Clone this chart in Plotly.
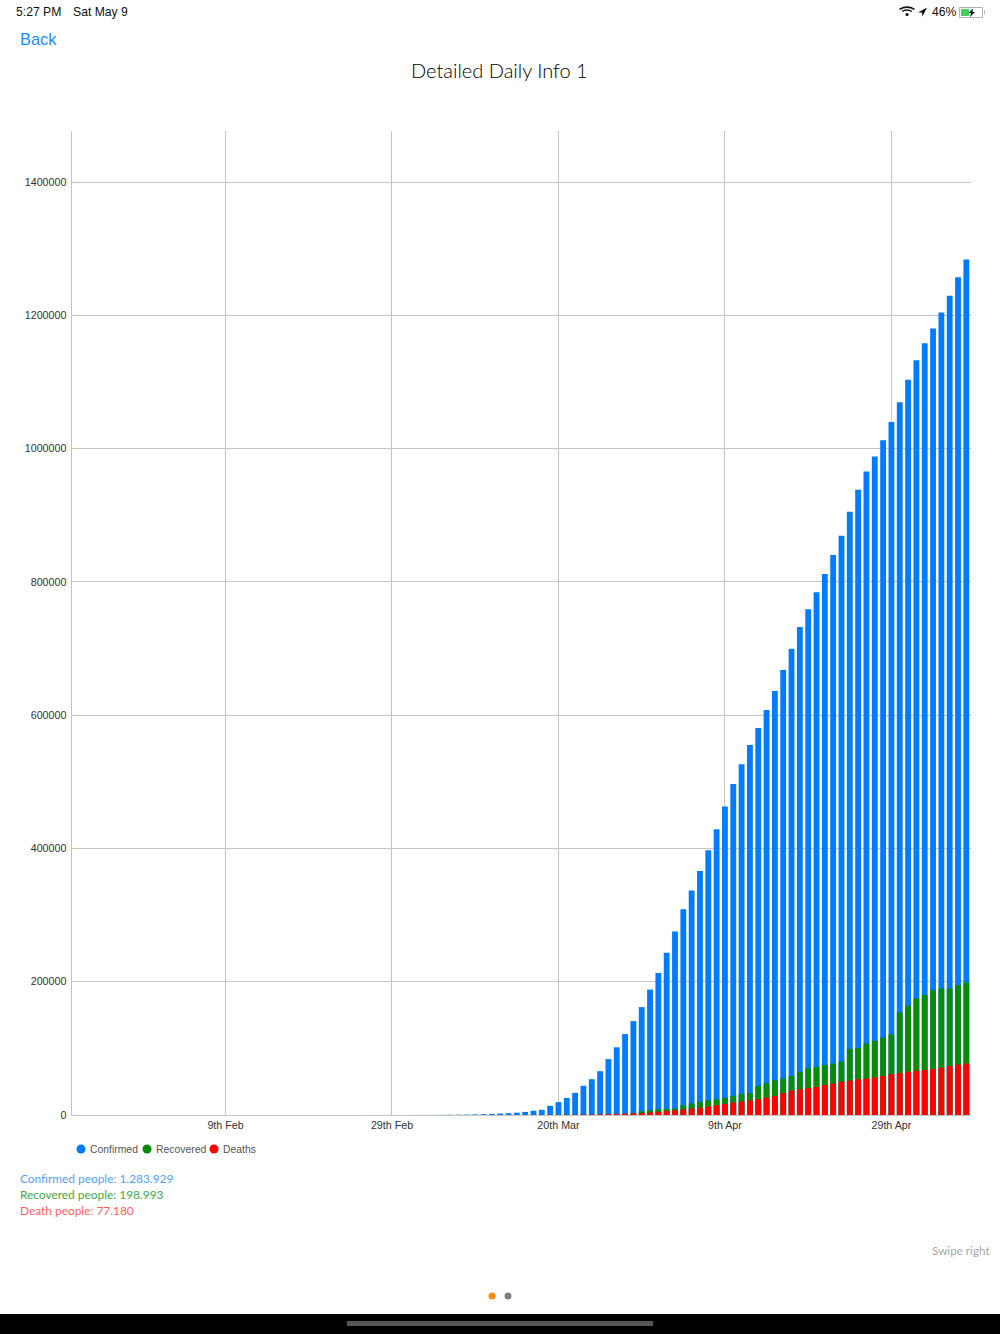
import plotly.graph_objects as go
from datetime import date, timedelta

# ---- data ----
start = date(2020, 1, 22)
confirmed = [1,1,2,2,5,5,5,5,5,7,
 8,8,11,11,11,11,11,11,11,11,12,12,13,13,13,13,13,13,13,13,15,15,15,51,51,57,58,60,68,
 74,98,118,149,217,262,402,518,583,959,1281,1663,2179,2727,3499,4632,6421,7783,13747,19273,
 25600,33276,43847,53740,65778,83836,101657,121465,140909,161831,188172,
 213242,243622,275367,308650,336802,366317,397121,428654,462780,496535,526396,555313,580619,607670,
 636350,667592,699706,732197,759086,784326,811865,840351,869170,905358,938154,965785,988197,1012582,1039909,1069424,
 1103461,1132539,1158040,1180375,1204351,1229331,1257023,1283929]
recovered = [0]*10 + [0]*29 + [0]*14 + [12,17,17,17,105,
 121,147,176,295,348,361,681,869,1072,2665,5644,7024,
 8474,9001,9707,14652,17448,19581,21763,23559,25410,28790,31270,32988,43482,47763,
 52096,54703,58545,64840,70337,72329,75204,77366,80203,99079,100372,106988,111424,115936,120720,153947,
 164015,175382,180152,187180,189791,189910,195036,198993]
deaths = [0]*10 + [0]*28 + [1] + [1,6,7,11,12,14,17,21,22,28,36,40,47,54,63,85,108,118,200,244,
 307,417,557,706,942,1209,1581,2026,2467,2978,3873,
 4757,5926,7087,8407,9619,10783,12722,14695,16478,18586,20463,22020,23529,25831,
 28325,32916,36773,38664,40661,42094,44845,46785,49954,51949,53755,54881,56259,58355,60967,62996,
 64943,66369,67682,68922,71064,73431,75670,77180]
days = [(start + timedelta(days=i)).isoformat() for i in range(len(confirmed))]
x_tick_dates = ["2020-02-09", "2020-02-29", "2020-03-20", "2020-04-09", "2020-04-29"]
x_tick_labels = ["9th Feb", "29th Feb", "20th Mar", "9th Apr", "29th Apr"]
y_ticks = [0, 200000, 400000, 600000, 800000, 1000000, 1200000, 1400000]
series_names = ["Confirmed", "Recovered", "Deaths"]

BLUE, GREEN, RED = "#007aff", "#088c08", "#ff0000"
BAR_COLORS = ["rgba(0,122,255,0.995)", "rgba(8,140,8,0.995)", "rgba(255,0,0,0.995)"]
GRID = "#c4c4c4"
W, H = 1000, 1334
def px(x): return x / W
def py(y): return 1 - y / H

fig = go.Figure()
for name, vals, col in zip(series_names, [confirmed, recovered, deaths], BAR_COLORS):
    fig.add_bar(x=days, y=vals, name=name, marker=dict(color=col, line=dict(width=0)), showlegend=False)

annotations, shapes = [], []
def text(x, y, s, size, color, font="Liberation Sans", anchor="left", weight=None):
    f = dict(size=size, color=color, family=font)
    if weight: f["weight"] = weight
    annotations.append(dict(x=px(x), y=py(y), xref="paper", yref="paper", text=s, showarrow=False,
                            xanchor=anchor, yanchor="middle", borderpad=0, font=f))
def dot(cx, cy, r, color):
    shapes.append(dict(type="circle", xref="paper", yref="paper", x0=px(cx-r), x1=px(cx+r),
                       y0=py(cy+r), y1=py(cy-r), fillcolor=color, line=dict(width=0)))
def rect(x0, y0, x1, y1, color, line=None):
    shapes.append(dict(type="rect", xref="paper", yref="paper", x0=px(x0), x1=px(x1), y0=py(y1), y1=py(y0),
                       fillcolor=color, line=dict(width=1 if line else 0, color=line or color)))
def path(points, color):
    d = "M " + " L ".join(f"{px(a):.5f} {py(b):.5f}" for a, b in points) + " Z"
    shapes.append(dict(type="path", xref="paper", yref="paper", path=d, fillcolor=color, line=dict(width=0)))
def curve(d, color, width):
    shapes.append(dict(type="path", xref="paper", yref="paper", path=d, line=dict(color=color, width=width)))

# status bar and header
text(15, 12, "5:27 PM", 12.2, "#111111")
text(71.5, 12, "Sat May 9", 12.2, "#111111")
text(930.5, 12, "46%", 12.2, "#111111")
text(19, 39, "Back", 16.4, "#1a8cff")
text(499.5, 69.5, "Detailed Daily Info 1", 20, "#000000", "Lato", "center", 300)
# wifi
for r, w in [(7.5, 1.6), (4.8, 1.6)]:
    curve(f"M {px(907-r):.5f} {py(15-r*0.75):.5f} Q {px(907):.5f} {py(15-r*1.35):.5f} {px(907+r):.5f} {py(15-r*0.75):.5f}", "#111111", w)
dot(907, 14.5, 1.6, "#111111")
# location arrow
path([(927, 7.5), (918, 12.5), (922, 12.5), (922.5, 16.5)], "#111111")
# battery
rect(959.5, 7.5, 982.5, 17.5, "#ffffff", "#b4b4b4")
rect(961, 9, 969, 16, "#3fd15a")
path([(973, 8.5), (968.5, 13), (971, 13), (970, 17), (975, 12), (972.5, 12)], "#111111")
rect(984, 10.5, 985, 14.5, "#b4b4b4")

# legend
for cx, tx, name, col in [(81, 89, series_names[0], BLUE), (147, 155, series_names[1], GREEN), (214, 222, series_names[2], RED)]:
    dot(cx, 1149, 4.5, col)
    text(tx, 1149.5, name, 10.4, "#555555")

# totals
text(19, 1178, "Confirmed people: 1.283.929", 11.9, "#4da3ff", "Lato")
text(19, 1194, "Recovered people: 198.993", 11.9, "#45a845", "Lato")
text(19, 1210, "Death people: 77.180", 11.9, "#ff6161", "Lato")
text(991, 1249.5, "Swipe right", 11.7, "#a8a8a8", "Lato", "right")

# page dots and home bar
dot(492, 1296, 3.5, "#ff8c00")
dot(508, 1296, 3.5, "#808080")
rect(0, 1314, 1000, 1334, "#000000")
shapes.append(dict(type="rect", xref="paper", yref="paper", x0=px(347), x1=px(653), y0=py(1326), y1=py(1321),
                   fillcolor="#555555", line=dict(width=0)))

fig.update_layout(
    width=W, height=H, margin=dict(l=0, r=0, t=0, b=0, autoexpand=False), autosize=False,
    paper_bgcolor="#ffffff", plot_bgcolor="#ffffff",
    barmode="overlay", bargap=0.3, showlegend=False,
    annotations=annotations, shapes=shapes,
    xaxis=dict(type="category", categoryorder="array", categoryarray=days, automargin=False,
               domain=[px(71.5), px(970.5)], range=[-0.5, len(days) - 0.5],
               tickmode="array", tickvals=x_tick_dates, ticktext=x_tick_labels,
               showgrid=True, gridcolor=GRID, gridwidth=1, showline=True, linecolor=GRID, linewidth=1,
               ticks="", ticklabelstandoff=0, tickfont=dict(size=10.7, color="#333333", family="Liberation Sans")),
    yaxis=dict(domain=[py(1115), py(131)], range=[0, 1476600], automargin=False,
               tickmode="array", tickvals=y_ticks, ticktext=[str(v) for v in y_ticks],
               showgrid=True, gridcolor=GRID, gridwidth=1, showline=True, linecolor=GRID, linewidth=1,
               zeroline=False, ticks="", ticklabelstandoff=2,
               tickfont=dict(size=10.7, color="#333333", family="Liberation Sans")),
)
fig.write_html("out.html", config=dict(displayModeBar=False, responsive=False),
               post_script="document.body.style.margin='0';")
